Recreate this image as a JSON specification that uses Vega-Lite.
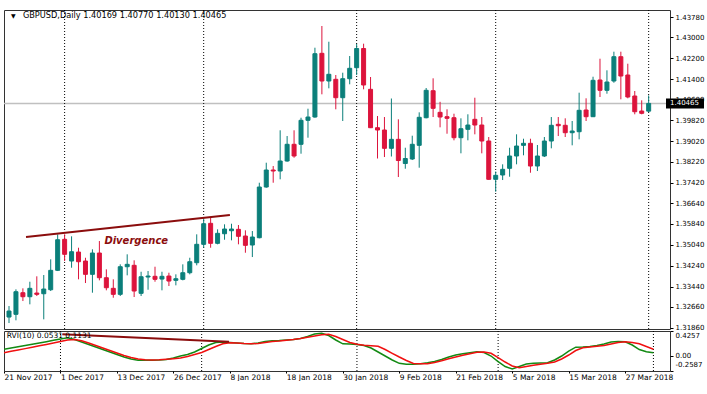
{
"$schema": "https://vega.github.io/schema/vega-lite/v6.json",
"background": "white",
"padding": {"left": 2, "top": 9, "right": 0, "bottom": 0},
"spacing": 2,
"bounds": "flush",
"config": {"view": {"stroke": "#333", "strokeWidth": 1}, "font": "DejaVu Sans", "axis": {"labelFont": "DejaVu Sans", "labelColor": "#000", "grid": false, "domain": false, "tickColor": "#000", "title": null, "labelOverlap": false}},
"datasets": {
"bars": [
{"i":0,"d":"2017-11-21","o":1.32269,"h":1.32691,"l":1.32039,"c":1.32499,"g":0.1124,"s":0.0541},
{"i":1,"d":"2017-11-22","o":1.32373,"h":1.33332,"l":1.32143,"c":1.33240,"g":0.1346,"s":0.0781},
{"i":2,"d":"2017-11-23","o":1.33202,"h":1.33370,"l":1.32883,"c":1.33048,"g":0.1552,"s":0.1004},
{"i":3,"d":"2017-11-24","o":1.33048,"h":1.33624,"l":1.32756,"c":1.33370,"g":0.1774,"s":0.1243},
{"i":4,"d":"2017-11-27","o":1.33190,"h":1.33831,"l":1.33075,"c":1.33140,"g":0.1997,"s":0.1483},
{"i":5,"d":"2017-11-28","o":1.33163,"h":1.33881,"l":1.32181,"c":1.33343,"g":0.2202,"s":0.1723},
{"i":6,"d":"2017-11-29","o":1.33317,"h":1.34483,"l":1.33267,"c":1.34061,"g":0.2425,"s":0.1962},
{"i":7,"d":"2017-11-30","o":1.34061,"h":1.35442,"l":1.34034,"c":1.35235,"g":0.2665,"s":0.2202},
{"i":8,"d":"2017-12-01","o":1.35250,"h":1.35442,"l":1.34418,"c":1.34675,"g":0.2887,"s":0.2459},
{"i":9,"d":"2017-12-04","o":1.34418,"h":1.35366,"l":1.34161,"c":1.34775,"g":0.3093,"s":0.2716},
{"i":10,"d":"2017-12-05","o":1.34763,"h":1.34928,"l":1.33716,"c":1.34391,"g":0.2802,"s":0.2819},
{"i":11,"d":"2017-12-06","o":1.34418,"h":1.34544,"l":1.33574,"c":1.33907,"g":0.2374,"s":0.2579},
{"i":12,"d":"2017-12-07","o":1.33907,"h":1.34867,"l":1.33202,"c":1.34725,"g":0.1945,"s":0.2202},
{"i":13,"d":"2017-12-08","o":1.34725,"h":1.35185,"l":1.33677,"c":1.33777,"g":0.1517,"s":0.1774},
{"i":14,"d":"2017-12-11","o":1.33777,"h":1.34099,"l":1.33294,"c":1.33393,"g":0.1089,"s":0.1346},
{"i":15,"d":"2017-12-12","o":1.33370,"h":1.33716,"l":1.33010,"c":1.33140,"g":0.0661,"s":0.0918},
{"i":16,"d":"2017-12-13","o":1.33140,"h":1.34291,"l":1.33075,"c":1.34199,"g":0.0233,"s":0.0490},
{"i":17,"d":"2017-12-14","o":1.34199,"h":1.34675,"l":1.33869,"c":1.34291,"g":-0.0195,"s":0.0062},
{"i":18,"d":"2017-12-15","o":1.34253,"h":1.34445,"l":1.33037,"c":1.33267,"g":-0.0537,"s":-0.0281},
{"i":19,"d":"2017-12-18","o":1.33179,"h":1.34007,"l":1.33075,"c":1.33815,"g":-0.0743,"s":-0.0537},
{"i":20,"d":"2017-12-19","o":1.33804,"h":1.34034,"l":1.33317,"c":1.33842,"g":-0.0760,"s":-0.0674},
{"i":21,"d":"2017-12-20","o":1.33831,"h":1.34199,"l":1.33624,"c":1.33716,"g":-0.0743,"s":-0.0709},
{"i":22,"d":"2017-12-21","o":1.33727,"h":1.34007,"l":1.33294,"c":1.33831,"g":-0.0709,"s":-0.0674},
{"i":23,"d":"2017-12-22","o":1.33842,"h":1.33969,"l":1.33459,"c":1.33650,"g":-0.0623,"s":-0.0589},
{"i":24,"d":"2017-12-26","o":1.33677,"h":1.33907,"l":1.33485,"c":1.33739,"g":-0.0366,"s":-0.0486},
{"i":25,"d":"2017-12-27","o":1.33716,"h":1.34291,"l":1.33677,"c":1.33969,"g":-0.0024,"s":-0.0366},
{"i":26,"d":"2017-12-28","o":1.33969,"h":1.34544,"l":1.33907,"c":1.34391,"g":0.0233,"s":-0.0109},
{"i":27,"d":"2017-12-29","o":1.34353,"h":1.35442,"l":1.34253,"c":1.35059,"g":0.0661,"s":0.0233},
{"i":28,"d":"2018-01-02","o":1.35059,"h":1.36106,"l":1.34928,"c":1.35849,"g":0.1261,"s":0.0576},
{"i":29,"d":"2018-01-03","o":1.35864,"h":1.36079,"l":1.34928,"c":1.35097,"g":0.1860,"s":0.1089},
{"i":30,"d":"2018-01-04","o":1.35097,"h":1.35634,"l":1.35059,"c":1.35481,"g":0.2288,"s":0.1603},
{"i":31,"d":"2018-01-05","o":1.35465,"h":1.35826,"l":1.35235,"c":1.35646,"g":0.2374,"s":0.2082},
{"i":32,"d":"2018-01-08","o":1.35580,"h":1.35849,"l":1.35212,"c":1.35646,"g":0.2288,"s":0.2254},
{"i":33,"d":"2018-01-09","o":1.35634,"h":1.35799,"l":1.35059,"c":1.35366,"g":0.2202,"s":0.2202},
{"i":34,"d":"2018-01-10","o":1.35377,"h":1.35596,"l":1.34736,"c":1.35020,"g":0.2117,"s":0.2117},
{"i":35,"d":"2018-01-11","o":1.35032,"h":1.35569,"l":1.34571,"c":1.35339,"g":0.2082,"s":0.2082},
{"i":36,"d":"2018-01-12","o":1.35312,"h":1.37422,"l":1.35289,"c":1.37257,"g":0.2202,"s":0.2117},
{"i":37,"d":"2018-01-15","o":1.37257,"h":1.38190,"l":1.37230,"c":1.37910,"g":0.2459,"s":0.2288},
{"i":38,"d":"2018-01-16","o":1.37910,"h":1.38063,"l":1.37422,"c":1.37871,"g":0.2579,"s":0.2459},
{"i":39,"d":"2018-01-17","o":1.37871,"h":1.39433,"l":1.37553,"c":1.38255,"g":0.2630,"s":0.2545},
{"i":40,"d":"2018-01-18","o":1.38255,"h":1.39214,"l":1.38228,"c":1.38896,"g":0.2716,"s":0.2665},
{"i":41,"d":"2018-01-19","o":1.38896,"h":1.39433,"l":1.38381,"c":1.38447,"g":0.2802,"s":0.2802},
{"i":42,"d":"2018-01-22","o":1.38896,"h":1.39916,"l":1.38535,"c":1.39817,"g":0.2973,"s":0.2973},
{"i":43,"d":"2018-01-23","o":1.39817,"h":1.40262,"l":1.39149,"c":1.39943,"g":0.3315,"s":0.3178},
{"i":44,"d":"2018-01-24","o":1.39943,"h":1.42602,"l":1.39916,"c":1.42372,"g":0.3743,"s":0.3401},
{"i":45,"d":"2018-01-25","o":1.42387,"h":1.43435,"l":1.40814,"c":1.41324,"g":0.3863,"s":0.3606},
{"i":46,"d":"2018-01-26","o":1.41324,"h":1.42832,"l":1.41044,"c":1.41582,"g":0.3487,"s":0.3692},
{"i":47,"d":"2018-01-29","o":1.41390,"h":1.41555,"l":1.40239,"c":1.40684,"g":0.2716,"s":0.3315},
{"i":48,"d":"2018-01-30","o":1.40684,"h":1.41643,"l":1.39790,"c":1.41413,"g":0.2065,"s":0.2802},
{"i":49,"d":"2018-01-31","o":1.41413,"h":1.42284,"l":1.41198,"c":1.41812,"g":0.2031,"s":0.2288},
{"i":50,"d":"2018-02-01","o":1.41835,"h":1.42744,"l":1.41555,"c":1.42571,"g":0.1945,"s":0.1980},
{"i":51,"d":"2018-02-02","o":1.42571,"h":1.42756,"l":1.41006,"c":1.41171,"g":0.1774,"s":0.1808},
{"i":52,"d":"2018-02-05","o":1.41006,"h":1.41478,"l":1.39520,"c":1.39533,"g":0.1346,"s":0.1740},
{"i":53,"d":"2018-02-06","o":1.39533,"h":1.39981,"l":1.38351,"c":1.39444,"g":0.0661,"s":0.1654},
{"i":54,"d":"2018-02-07","o":1.39444,"h":1.39943,"l":1.38408,"c":1.38742,"g":-0.0024,"s":0.1089},
{"i":55,"d":"2018-02-08","o":1.38742,"h":1.40653,"l":1.38428,"c":1.39087,"g":-0.0709,"s":0.0439},
{"i":56,"d":"2018-02-09","o":1.39087,"h":1.39855,"l":1.37641,"c":1.38274,"g":-0.1274,"s":-0.0195},
{"i":57,"d":"2018-02-12","o":1.38159,"h":1.38765,"l":1.37959,"c":1.38351,"g":-0.1428,"s":-0.0794},
{"i":58,"d":"2018-02-13","o":1.38332,"h":1.39226,"l":1.38293,"c":1.38896,"g":-0.1445,"s":-0.1308},
{"i":59,"d":"2018-02-14","o":1.38857,"h":1.40123,"l":1.37998,"c":1.39932,"g":-0.1359,"s":-0.1359},
{"i":60,"d":"2018-02-15","o":1.39916,"h":1.41056,"l":1.39893,"c":1.40968,"g":-0.1188,"s":-0.1342},
{"i":61,"d":"2018-02-16","o":1.40952,"h":1.41428,"l":1.39943,"c":1.40277,"g":-0.0966,"s":-0.1137},
{"i":62,"d":"2018-02-19","o":1.40123,"h":1.40526,"l":1.39548,"c":1.39943,"g":-0.0623,"s":-0.0846},
{"i":63,"d":"2018-02-20","o":1.39955,"h":1.40239,"l":1.39302,"c":1.39893,"g":-0.0195,"s":-0.0503},
{"i":64,"d":"2018-02-21","o":1.39916,"h":1.40070,"l":1.39049,"c":1.39149,"g":0.0148,"s":-0.0195},
{"i":65,"d":"2018-02-22","o":1.39149,"h":1.39893,"l":1.38550,"c":1.39494,"g":0.0353,"s":0.0096},
{"i":66,"d":"2018-02-23","o":1.39471,"h":1.40047,"l":1.39049,"c":1.39636,"g":0.0541,"s":0.0353},
{"i":67,"d":"2018-02-26","o":1.39855,"h":1.40684,"l":1.39279,"c":1.39636,"g":0.0695,"s":0.0610},
{"i":68,"d":"2018-02-27","o":1.39636,"h":1.39943,"l":1.38550,"c":1.39022,"g":0.0576,"s":0.0678},
{"i":69,"d":"2018-02-28","o":1.39022,"h":1.39176,"l":1.37537,"c":1.37553,"g":-0.0024,"s":0.0439},
{"i":70,"d":"2018-03-01","o":1.37553,"h":1.37852,"l":1.37077,"c":1.37706,"g":-0.0966,"s":-0.0281},
{"i":71,"d":"2018-03-02","o":1.37718,"h":1.38128,"l":1.37526,"c":1.37936,"g":-0.1822,"s":-0.1051},
{"i":72,"d":"2018-03-05","o":1.37975,"h":1.38765,"l":1.37652,"c":1.38447,"g":-0.2250,"s":-0.1736},
{"i":73,"d":"2018-03-06","o":1.38447,"h":1.39279,"l":1.38128,"c":1.38830,"g":-0.1822,"s":-0.2027},
{"i":74,"d":"2018-03-07","o":1.38857,"h":1.39110,"l":1.38474,"c":1.38934,"g":-0.1394,"s":-0.1822},
{"i":75,"d":"2018-03-08","o":1.38934,"h":1.39110,"l":1.37806,"c":1.38063,"g":-0.1257,"s":-0.1616},
{"i":76,"d":"2018-03-09","o":1.38063,"h":1.38869,"l":1.37871,"c":1.38447,"g":-0.1222,"s":-0.1445},
{"i":77,"d":"2018-03-12","o":1.38447,"h":1.39176,"l":1.38408,"c":1.39022,"g":-0.1171,"s":-0.1274},
{"i":78,"d":"2018-03-13","o":1.39022,"h":1.39943,"l":1.38742,"c":1.39625,"g":-0.0709,"s":-0.1051},
{"i":79,"d":"2018-03-14","o":1.39663,"h":1.39943,"l":1.39214,"c":1.39609,"g":-0.0024,"s":-0.0537},
{"i":80,"d":"2018-03-15","o":1.39625,"h":1.39893,"l":1.39176,"c":1.39341,"g":0.0832,"s":0.0148},
{"i":81,"d":"2018-03-16","o":1.39341,"h":1.39790,"l":1.38857,"c":1.39406,"g":0.1483,"s":0.0918},
{"i":82,"d":"2018-03-19","o":1.39379,"h":1.40876,"l":1.39087,"c":1.40200,"g":0.1517,"s":0.1398},
{"i":83,"d":"2018-03-20","o":1.40212,"h":1.40661,"l":1.39790,"c":1.39955,"g":0.1603,"s":0.1517},
{"i":84,"d":"2018-03-21","o":1.39955,"h":1.41489,"l":1.39943,"c":1.41351,"g":0.1774,"s":0.1637},
{"i":85,"d":"2018-03-22","o":1.41363,"h":1.42180,"l":1.40711,"c":1.40968,"g":0.2031,"s":0.1774},
{"i":86,"d":"2018-03-23","o":1.40968,"h":1.41735,"l":1.40837,"c":1.41286,"g":0.2374,"s":0.2031},
{"i":87,"d":"2018-03-26","o":1.41324,"h":1.42449,"l":1.41259,"c":1.42257,"g":0.2459,"s":0.2288},
{"i":88,"d":"2018-03-27","o":1.42257,"h":1.42449,"l":1.40622,"c":1.41516,"g":0.2408,"s":0.2425},
{"i":89,"d":"2018-03-28","o":1.41555,"h":1.41988,"l":1.40661,"c":1.40711,"g":0.1860,"s":0.2288},
{"i":90,"d":"2018-03-29","o":1.40749,"h":1.40941,"l":1.40047,"c":1.40146,"g":0.1089,"s":0.2082},
{"i":91,"d":"2018-03-30","o":1.40173,"h":1.40584,"l":1.40047,"c":1.40085,"g":0.0695,"s":0.1603},
{"i":92,"d":"2018-04-02","o":1.40169,"h":1.40770,"l":1.40130,"c":1.40465,"g":0.0531,"s":0.1131}
],
"seps": [{"i":8},{"i":28},{"i":50},{"i":70},{"i":92}],
"divPrice": [{"i":2.45,"p":1.35339},{"i":31.77,"p":1.36183}],
"divRvi": [{"i":8.26,"v":0.3692},{"i":31.87,"v":0.2425}]
},
"vconcat": [
{
"width": 666, "height": 319,
"layer": [
{"data": {"values": [{}]}, "mark": {"type": "rule", "color": "#c0c0c0", "strokeWidth": 1.5},
 "encoding": {"y": {"datum": 1.40465, "type": "quantitative", "scale": {"domain": [1.3181, 1.44049], "nice": false, "zero": false},
   "axis": {"orient": "right", "values": [1.4378, 1.43, 1.422, 1.414, 1.406, 1.3982, 1.3902, 1.3822, 1.3742, 1.3664, 1.3584, 1.3504, 1.3424, 1.3344, 1.3266, 1.3186], "tickCount": 40, "format": ".5f", "labelFontSize": 7, "tickSize": 3, "labelPadding": 2, "labelFlush": false, "labelOverlap": false, "labelBound": false}}}},
{"data": {"name": "seps"}, "mark": {"type": "rule", "color": "#000", "strokeWidth": 1, "strokeDash": [1, 2]},
 "encoding": {"x": {"field": "i", "type": "quantitative", "scale": {"domain": [0, 94.35], "nice": false, "zero": false}, "axis": null}}},
{"data": {"name": "bars"}, "mark": {"type": "rule", "strokeWidth": 1, "clip": true},
 "encoding": {
  "x": {"field": "i", "type": "quantitative", "scale": {"domain": [0, 94.35], "nice": false, "zero": false}},
  "y": {"field": "l", "type": "quantitative", "scale": {"domain": [1.3181, 1.44049], "nice": false, "zero": false}},
  "y2": {"field": "h"},
  "color": {"condition": {"test": "datum.c >= datum.o", "value": "#0b7f7a"}, "value": "#dc143c"}}},
{"data": {"name": "bars"}, "mark": {"type": "bar", "width": 4, "strokeWidth": 1, "clip": true},
 "encoding": {
  "x": {"field": "i", "type": "quantitative", "scale": {"domain": [0, 94.35], "nice": false, "zero": false}},
  "y": {"field": "o", "type": "quantitative", "scale": {"domain": [1.3181, 1.44049], "nice": false, "zero": false}},
  "y2": {"field": "c"},
  "color": {"condition": {"test": "datum.c >= datum.o", "value": "#0b7f7a"}, "value": "#dc143c"},
  "stroke": {"condition": {"test": "datum.c >= datum.o", "value": "#0b7f7a"}, "value": "#dc143c"}}},
{"data": {"name": "divPrice"}, "mark": {"type": "line", "color": "#8b0d0d", "strokeWidth": 2},
 "encoding": {
  "x": {"field": "i", "type": "quantitative", "scale": {"domain": [0, 94.35], "nice": false, "zero": false}},
  "y": {"field": "p", "type": "quantitative", "scale": {"domain": [1.3181, 1.44049], "nice": false, "zero": false}}}},
{"data": {"values": [{}]}, "mark": {"type": "text", "text": "Divergence", "color": "#8b0d0d", "fontSize": 10, "fontStyle": "italic", "fontWeight": "bold", "align": "center", "baseline": "middle"},
 "encoding": {
  "x": {"datum": 18.3, "type": "quantitative", "scale": {"domain": [0, 94.35], "nice": false, "zero": false}},
  "y": {"datum": 1.35185, "type": "quantitative", "scale": {"domain": [1.3181, 1.44049], "nice": false, "zero": false}}}},
{"data": {"values": [{}]}, "mark": {"type": "text", "text": "▼", "color": "#000", "fontSize": 6, "align": "left", "baseline": "middle"},
 "encoding": {
  "x": {"datum": 0.3, "type": "quantitative", "scale": {"domain": [0, 94.35], "nice": false, "zero": false}},
  "y": {"datum": 1.43818, "type": "quantitative", "scale": {"domain": [1.3181, 1.44049], "nice": false, "zero": false}}}},
{"data": {"values": [{}]}, "mark": {"type": "text", "text": "GBPUSD,Daily  1.40169 1.40770 1.40130 1.40465", "color": "#000", "fontSize": 8.2, "align": "left", "baseline": "middle"},
 "encoding": {
  "x": {"datum": 2.0, "type": "quantitative", "scale": {"domain": [0, 94.35], "nice": false, "zero": false}},
  "y": {"datum": 1.43818, "type": "quantitative", "scale": {"domain": [1.3181, 1.44049], "nice": false, "zero": false}}}},
{"data": {"values": [{}]}, "mark": {"type": "rect", "color": "#000", "xOffset": 1, "x2Offset": 39, "yOffset": -5, "y2Offset": 5},
 "encoding": {
  "x": {"datum": 94.35, "type": "quantitative", "scale": {"domain": [0, 94.35], "nice": false, "zero": false}},
  "x2": {"datum": 94.35},
  "y": {"datum": 1.40465, "type": "quantitative", "scale": {"domain": [1.3181, 1.44049], "nice": false, "zero": false}},
  "y2": {"datum": 1.40465}}},
{"data": {"values": [{}]}, "mark": {"type": "text", "text": "1.40465", "color": "#fff", "fontSize": 7, "align": "left", "baseline": "middle", "dx": 5},
 "encoding": {
  "x": {"datum": 94.35, "type": "quantitative", "scale": {"domain": [0, 94.35], "nice": false, "zero": false}},
  "y": {"datum": 1.40465, "type": "quantitative", "scale": {"domain": [1.3181, 1.44049], "nice": false, "zero": false}}}}
]
},
{
"width": 666, "height": 40,
"layer": [
{"data": {"name": "seps"}, "mark": {"type": "rule", "color": "#000", "strokeWidth": 1, "strokeDash": [1, 2]},
 "encoding": {"x": {"field": "i", "type": "quantitative", "scale": {"domain": [0, 94.35], "nice": false, "zero": false},
   "axis": {"values": [0, 8, 16, 24, 32, 40, 48, 56, 64, 72, 80, 88], "tickCount": 40, "labelExpr": "['21 Nov 2017','1 Dec 2017','13 Dec 2017','26 Dec 2017','8 Jan 2018','18 Jan 2018','30 Jan 2018','9 Feb 2018','21 Feb 2018','5 Mar 2018','15 Mar 2018','27 Mar 2018'][round(datum.value/8)]", "labelAlign": "left", "labelAngle": 0, "labelFontSize": 7.5, "tickSize": 2, "labelPadding": 0, "labelFlush": false, "labelOverlap": false, "labelBound": false}}}},
{"data": {"name": "bars"}, "mark": {"type": "line", "color": "#138a13", "strokeWidth": 1.5, "clip": true},
 "encoding": {
  "x": {"field": "i", "type": "quantitative", "scale": {"domain": [0, 94.35], "nice": false, "zero": false}},
  "y": {"field": "g", "type": "quantitative", "scale": {"domain": [-0.2587, 0.4257], "nice": false, "zero": false},
        "axis": {"orient": "right", "values": [0.4257, 0.000001, -0.2587], "tickCount": 10, "labelExpr": "datum.value > 0.1 ? '0.4257' : (datum.value < -0.1 ? '-0.2587' : '0.00')", "labelFontSize": 7, "tickSize": 3, "labelPadding": 2, "labelFlush": false, "labelOverlap": false, "labelBound": false,
                 "labelBaseline": {"condition": {"test": "datum.value > 0.1", "value": "top"}, "value": "middle"},
                 "labelOffset": {"condition": {"test": "datum.value < -0.1", "value": -7}, "value": 0}}}}},
{"data": {"name": "bars"}, "mark": {"type": "line", "color": "#f01010", "strokeWidth": 1.5, "clip": true},
 "encoding": {
  "x": {"field": "i", "type": "quantitative", "scale": {"domain": [0, 94.35], "nice": false, "zero": false}},
  "y": {"field": "s", "type": "quantitative", "scale": {"domain": [-0.2587, 0.4257], "nice": false, "zero": false}}}},
{"data": {"name": "divRvi"}, "mark": {"type": "line", "color": "#8b0d0d", "strokeWidth": 2},
 "encoding": {
  "x": {"field": "i", "type": "quantitative", "scale": {"domain": [0, 94.35], "nice": false, "zero": false}},
  "y": {"field": "v", "type": "quantitative", "scale": {"domain": [-0.2587, 0.4257], "nice": false, "zero": false}}}},
{"data": {"values": [{}]}, "mark": {"type": "text", "text": "RVI(10) 0.0531 0.1131", "color": "#000", "fontSize": 7.5, "align": "left", "baseline": "middle"},
 "encoding": {
  "x": {"datum": 0.4, "type": "quantitative", "scale": {"domain": [0, 94.35], "nice": false, "zero": false}},
  "y": {"datum": 0.3403, "type": "quantitative", "scale": {"domain": [-0.2587, 0.4257], "nice": false, "zero": false}}}}
]
}
]
}
